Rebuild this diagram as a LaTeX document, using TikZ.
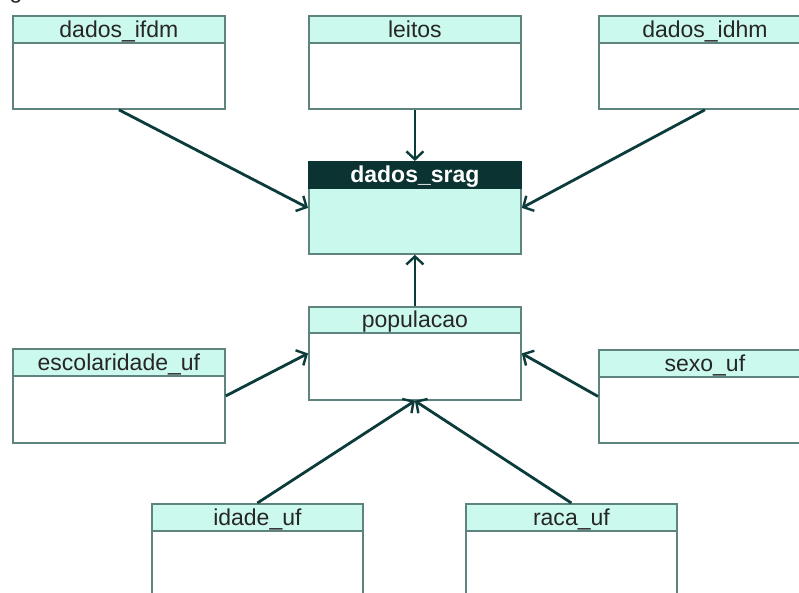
\documentclass[tikz,border=0pt]{standalone}
\usepackage{fontspec}
\setmainfont{Liberation Sans}
\usetikzlibrary{arrows.meta}
\definecolor{conncol}{HTML}{0B3B3A}
\definecolor{bordcol}{HTML}{5F8480}
\definecolor{hdrcol}{HTML}{CCF9EE}
\definecolor{sraghdr}{HTML}{0A3332}
\definecolor{sragbody}{HTML}{C9F8EC}
\tikzset{
  tblbody/.style={draw=bordcol, line width=1.8pt, fill=white, inner sep=0pt, anchor=north west, minimum width=212pt},
  tblhdr/.style={draw=bordcol, line width=1.8pt, fill=hdrcol, inner sep=0pt, anchor=north west, minimum width=212pt, minimum height=27pt, text height=21.5pt, text depth=5.5pt, font=\fontsize{23}{26}\selectfont, text=black!85},
  conn/.style={draw=conncol, line width=2.8pt, -{Straight Barb[length=8pt,width=17pt,line width=2.4pt]}}
}
\begin{document}
\begin{tikzpicture}[x=1pt,y=-1pt]
\useasboundingbox (0,0) rectangle (799,592);
\clip (0,0) rectangle (799,592);
\fill[white] (0,0) rectangle (799,592);
% fragment of text at top-left
\node[anchor=base, inner sep=0pt, font=\fontsize{23}{26}\selectfont, text=black!85] (frag) at (16,-1.5) {g};
% top row
\node[tblbody, minimum height=93pt] (ifdm) at (12,15) {};
\node[tblhdr] (ifdmh) at (12,15) {dados\_ifdm};
\node[tblbody, minimum height=93pt] (leitos) at (308,15) {};
\node[tblhdr] (leitosh) at (308,15) {leitos};
\node[tblbody, minimum height=93pt] (idhm) at (598,15) {};
\node[tblhdr] (idhmh) at (598,15) {dados\_idhm};
% dados_srag
\node[tblbody, fill=sragbody, minimum height=92pt] (srag) at (308,161) {};
\node[tblhdr, fill=sraghdr, draw=sraghdr, minimum height=26pt, text height=21pt, text depth=5pt, text=white, font=\fontsize{23}{26}\selectfont\bfseries] (sragh) at (308,161) {dados\_srag};
% populacao
\node[tblbody, minimum height=93pt] (pop) at (308,306) {};
\node[tblhdr, minimum height=26pt, text height=21pt, text depth=5pt] (poph) at (308,306) {populacao};
% middle sides
\node[tblbody, minimum height=94pt] (esc) at (12,348) {};
\node[tblhdr] (esch) at (12,348) {escolaridade\_uf};
\node[tblbody, minimum height=93pt] (sexo) at (598,349) {};
\node[tblhdr] (sexoh) at (598,349) {sexo\_uf};
% bottom row
\node[tblbody, minimum height=120pt, minimum width=211pt] (idade) at (151,503) {};
\node[tblhdr, minimum width=211pt] (idadeh) at (151,503) {idade\_uf};
\node[tblbody, minimum height=120pt, minimum width=211pt] (raca) at (465,503) {};
\node[tblhdr, minimum width=211pt] (racah) at (465,503) {raca\_uf};
% connectors
\draw[conn] (ifdm.south) -- (srag.west);
\draw[conn] (leitos.south) -- (srag.north);
\draw[conn] (idhm.south) -- (srag.east);
\draw[conn] (pop.north) -- (srag.south);
\draw[conn] (esc.east) -- (pop.west);
\draw[conn] (sexo.west) -- (pop.east);
\draw[conn] (idade.north) -- (pop.south);
\draw[conn] (raca.north) -- (pop.south);
\end{tikzpicture}
\end{document}
